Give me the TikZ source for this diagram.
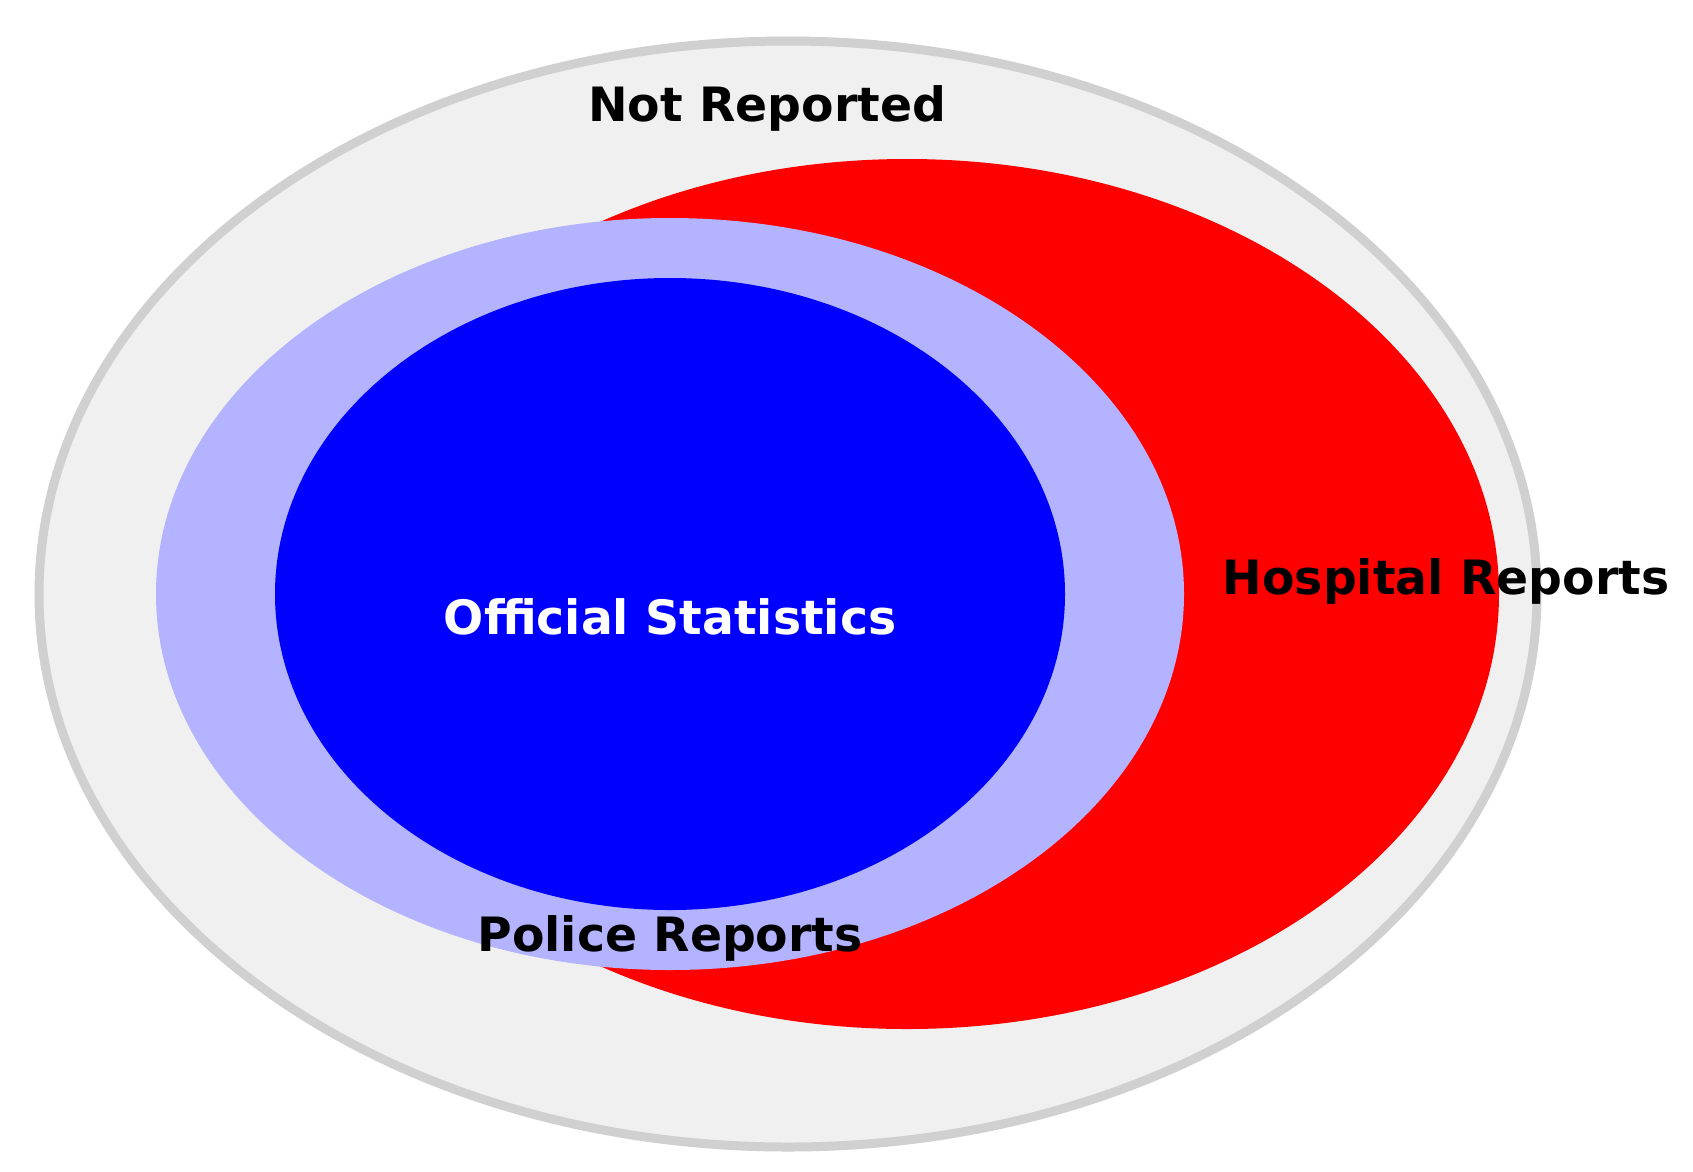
\documentclass[tikz,border=0pt]{standalone}
\usepackage{fontspec}
\setmainfont{DejaVu Sans}
\definecolor{outerfill}{HTML}{F0F0F0}
\definecolor{outerline}{HTML}{D0D0D0}
\definecolor{policefill}{HTML}{B3B3FF}
\definecolor{hospfill}{HTML}{FF0000}
\definecolor{officialfill}{HTML}{0000FF}
\tikzset{
  lbl/.style={anchor=base, inner sep=0pt, font=\fontsize{47.3}{48}\selectfont\bfseries},
}
\begin{document}
\begin{tikzpicture}[x=1pt,y=-1pt]
\useasboundingbox (0,0) rectangle (1693,1171);
\fill[white] (0,0) rectangle (1693,1171);
% Not reported (outer)
\draw[fill=outerfill, draw=outerline, line width=9pt] (788,594) ellipse [x radius=749pt, y radius=553pt];
% Hospital reports
\fill[hospfill] (907,594) ellipse [x radius=592pt, y radius=435pt];
% Police reports
\fill[policefill] (670,594) ellipse [x radius=514pt, y radius=376pt];
% Official statistics
\fill[officialfill] (670,594) ellipse [x radius=395pt, y radius=316pt];
% labels
\node[lbl] (notrep) at (767,121) {Not Reported};
\node[lbl] (hosp) at (1446,594) {Hospital Reports};
\node[lbl, text=white] (official) at (670,634) {Official Statistics};
\node[lbl] (police) at (670,951) {Police Reports};
\end{tikzpicture}
\end{document}
